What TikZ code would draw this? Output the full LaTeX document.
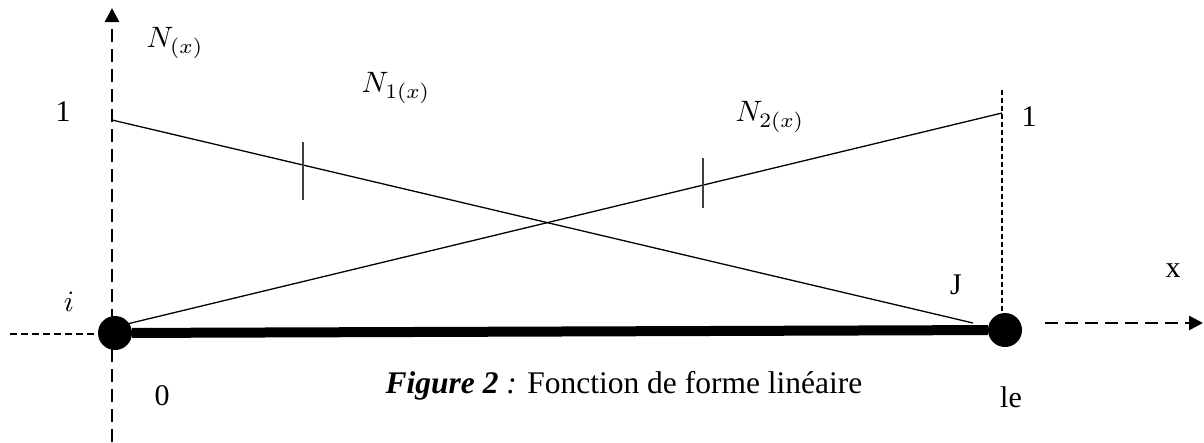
\documentclass[tikz,border=0pt]{standalone}
\usepackage{graphicx}
\usepackage{fontspec}
\setmainfont{Liberation Serif}
\usetikzlibrary{arrows.meta}
\newcommand{\bigmath}[1]{\scalebox{2.95}{$#1$}}
\tikzset{
  lbl/.style={inner sep=0pt, font=\fontsize{30}{36}\selectfont},
  caplbl/.style={inner sep=0pt, font=\fontsize{31.5}{38}\selectfont},
  mlbl/.style={inner sep=0pt, font=\normalsize},
  dotnode/.style={circle, fill=black, draw=none, minimum size=34pt, inner sep=0pt},
  axisthick/.style={line width=2.5pt, dash pattern=on 13pt off 7pt},
  axisthin/.style={line width=1.2pt, dash pattern=on 7pt off 4pt},
  guideline/.style={line width=1.1pt, dash pattern=on 5pt off 3pt},
  fnline/.style={line width=1.3pt},
  tickline/.style={line width=1.4pt, black!75},
  barline/.style={line width=10pt},
  arrowend/.style={-{Triangle[length=14pt,width=14pt]}}
}
\begin{document}
\begin{tikzpicture}[x=1pt,y=-1pt]
\useasboundingbox (0,0) rectangle (1204,442);
% coordinates
\coordinate (ab) at (112,442);
\coordinate (at) at (112,8);
\coordinate (hl) at (10,334);
\coordinate (hr) at (100,334);
\coordinate (n1s) at (112,120);
\coordinate (n1e) at (973,323);
\coordinate (n2s) at (127,324);
\coordinate (n2e) at (1002,113);
\coordinate (gt) at (1002,90);
\coordinate (gb) at (1002,312);
\coordinate (xs) at (1045,323);
\coordinate (xe) at (1203,323);
\coordinate (t1a) at (303,142);
\coordinate (t1b) at (303,200);
\coordinate (t2a) at (703,158);
\coordinate (t2b) at (703,208);
% axes
\draw[axisthick, arrowend] (ab) -- (at);
\draw[axisthin] (hl) -- (hr);
\draw[guideline] (gt) -- (gb);
\draw[axisthick, arrowend] (xs) -- (xe);
% shape functions
\draw[fnline] (n1s) -- (n1e);
\draw[fnline] (n2s) -- (n2e);
\draw[tickline] (t1a) -- (t1b);
\draw[tickline] (t2a) -- (t2b);
% element
\node[dotnode] (i) at (115,333) {};
\node[dotnode] (j) at (1005,330) {};
\draw[barline] (i) -- (j);
% labels
\node[mlbl] (nx) at (175,43) {\bigmath{N_{(x)}}};
\node[mlbl] (n1) at (396,88) {\bigmath{N_{1(x)}}};
\node[mlbl] (n2) at (770,117) {\bigmath{N_{2(x)}}};
\node[lbl] (one1) at (63,112) {1};
\node[lbl] (one2) at (1029,117) {1};
\node[mlbl] (li) at (69,302) {\bigmath{i}};
\node[lbl] (lj) at (956,285) {J};
\node[lbl] (lx) at (1173,271) {x};
\node[lbl] (l0) at (162,396) {0};
\node[lbl] (lle) at (1011,397) {le};
\node[caplbl] (cap) at (624,386) {\textbf{\textit{Figure 2}} \textit{:} Fonction de forme linéaire};
\end{tikzpicture}
\end{document}
